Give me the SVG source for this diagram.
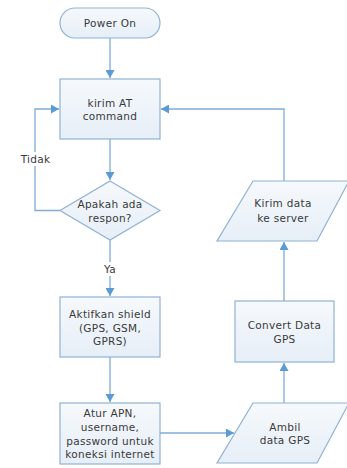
<svg xmlns="http://www.w3.org/2000/svg" width="347" height="468" viewBox="0 0 347 468">
<style>
.shape{fill:url(#g);stroke:#8fb2d4;stroke-width:1.2}
.t{font-family:"DejaVu Sans",sans-serif;font-size:10.5px;fill:#3a3a3a;text-anchor:middle;letter-spacing:0.3px}
.c{fill:none;stroke:#7fabd6;stroke-width:1.3}
</style>
<defs>
<linearGradient id="g" x1="0" y1="0" x2="0" y2="1">
<stop offset="0" stop-color="#f6f9fc"/>
<stop offset="1" stop-color="#e6eef7"/>
</linearGradient>
<marker id="a" markerWidth="9" markerHeight="9" refX="8" refY="4.5" orient="auto" markerUnits="userSpaceOnUse">
<path d="M0,0 L8,4.5 L0,9 Z" fill="#5b9bd5"/>
</marker>
</defs>
<rect width="347" height="468" fill="#ffffff"/>
<g id="connectors">
<path class="c" d="M110,38 V78" marker-end="url(#a)"/>
<path class="c" d="M110,139 V180" marker-end="url(#a)"/>
<path class="c" d="M60,210.5 H35 V109 H59" marker-end="url(#a)"/>
<path class="c" d="M110,240 V296" marker-end="url(#a)"/>
<path class="c" d="M110,357 V402" marker-end="url(#a)"/>
<path class="c" d="M160,433 H234" marker-end="url(#a)"/>
<path class="c" d="M284,403 V363" marker-end="url(#a)"/>
<path class="c" d="M284,301 V242" marker-end="url(#a)"/>
<path class="c" d="M284,181 V109 H161" marker-end="url(#a)"/>
<rect x="18" y="152" width="35" height="14" fill="#ffffff"/>
<text class="t" x="35.5" y="163">Tidak</text>
<rect x="100" y="262" width="20" height="14" fill="#ffffff"/>
<text class="t" x="110" y="273">Ya</text>
</g>
<g id="power-on">
<rect class="shape" x="60" y="8" width="100" height="30" rx="15"/>
<text class="t" x="110" y="27">Power On</text>
</g>
<g id="kirim-at">
<rect class="shape" x="60" y="79" width="100" height="60"/>
<text class="t" x="110" y="107">kirim AT</text>
<text class="t" x="110" y="120">command</text>
</g>
<g id="apakah">
<polygon class="shape" points="110,181 160,210.5 110,240 60,210.5"/>
<text class="t" x="110" y="208">Apakah ada</text>
<text class="t" x="110" y="222">respon?</text>
</g>
<g id="aktifkan">
<rect class="shape" x="60" y="297" width="100" height="60"/>
<text class="t" x="110" y="318">Aktifkan shield</text>
<text class="t" x="110" y="332">(GPS, GSM,</text>
<text class="t" x="110" y="345">GPRS)</text>
</g>
<g id="atur">
<rect class="shape" x="60" y="403" width="100" height="61"/>
<text class="t" x="110" y="417">Atur APN,</text>
<text class="t" x="110" y="431">username,</text>
<text class="t" x="110" y="445">password untuk</text>
<text class="t" x="110" y="458">koneksi internet</text>
</g>
<g id="ambil">
<polygon class="shape" points="253,403 349,403 317,463 217,463"/>
<text class="t" x="285" y="431">Ambil</text>
<text class="t" x="285" y="444">data GPS</text>
</g>
<g id="convert">
<rect class="shape" x="235" y="301" width="99" height="61"/>
<text class="t" x="284.5" y="329">Convert Data</text>
<text class="t" x="284.5" y="343">GPS</text>
</g>
<g id="kirim-data">
<polygon class="shape" points="253,181 349,181 317,241 217,241"/>
<text class="t" x="283" y="207">Kirim data</text>
<text class="t" x="283" y="222">ke server</text>
</g>
</svg>
